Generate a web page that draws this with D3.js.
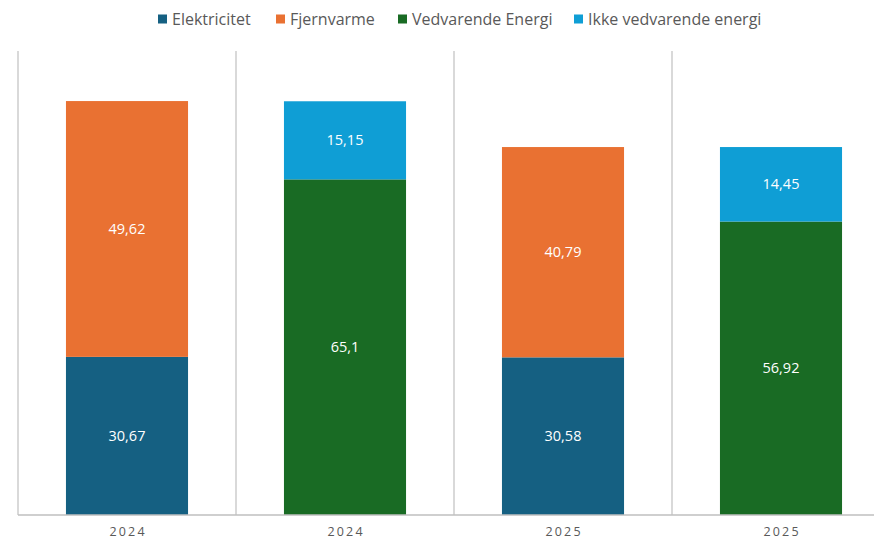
<!DOCTYPE html>
<html>
<head>
<meta charset="utf-8">
<script src="https://cdn.jsdelivr.net/npm/d3@7/dist/d3.min.js"></script>
<style>
  body { margin: 0; background: #fff; }
  svg { display: block; font-family: "Open Sans", "Liberation Sans", sans-serif; }
</style>
</head>
<body>
<div id="chart"></div>
<script>
const categories = ["2024", "2024 ", "2025", "2025 "];
const categoryLabels = ["2024", "2024", "2025", "2025"];
const seriesNames = ["Elektricitet", "Fjernvarme", "Vedvarende Energi", "Ikke vedvarende energi"];
const elektricitet = [30.67, 0, 30.58, 0];
const fjernvarme = [49.62, 0, 40.79, 0];
const vedvarende = [0, 65.1, 0, 56.92];
const ikkeVedvarende = [0, 15.15, 0, 14.45];
const colors = ["#156082", "#e97132", "#196b24", "#0f9ed5"];

const W = 874, H = 540;
const table = categories.map((c, i) => ({
  cat: c,
  [seriesNames[0]]: elektricitet[i],
  [seriesNames[1]]: fjernvarme[i],
  [seriesNames[2]]: vedvarende[i],
  [seriesNames[3]]: ikkeVedvarende[i]
}));

const stacked = d3.stack().keys(seriesNames)(table);

const x = d3.scaleBand()
  .domain(categories)
  .range([18, 890])
  .paddingInner(0.44)
  .paddingOuter(0.22);

const y = d3.scaleLinear()
  .domain([0, 90])
  .range([515, 51]);

const color = d3.scaleOrdinal().domain(seriesNames).range(colors);
const fmt = v => String(v).replace(".", ",");

const svg = d3.select("#chart").append("svg")
  .attr("width", W)
  .attr("height", H);

// category separators
const step = x.step();
svg.append("g")
  .selectAll("line")
  .data(d3.range(categories.length + 1))
  .join("line")
  .attr("x1", i => 18 + i * step)
  .attr("x2", i => 18 + i * step)
  .attr("y1", y(90))
  .attr("y2", y(0))
  .attr("stroke", "#d9d9d9")
  .attr("stroke-width", 2);

// bars
const layers = svg.append("g")
  .selectAll("g")
  .data(stacked)
  .join("g")
  .attr("fill", d => color(d.key));

layers.selectAll("rect")
  .data(d => d.filter(p => p[1] - p[0] > 0))
  .join("rect")
  .attr("x", d => x(d.data.cat))
  .attr("width", x.bandwidth())
  .attr("y", d => y(d[1]))
  .attr("height", d => y(d[0]) - y(d[1]));

// data labels
layers.selectAll("text")
  .data(d => d.filter(p => p[1] - p[0] > 0).map(p => ({ p, key: d.key })))
  .join("text")
  .attr("x", d => x(d.p.data.cat) + x.bandwidth() / 2)
  .attr("y", d => (y(d.p[0]) + y(d.p[1])) / 2)
  .attr("dy", "0.35em")
  .attr("text-anchor", "middle")
  .attr("fill", "#fff")
  .style("font-size", "14.5px")
  .text(d => fmt(d.p.data[d.key]));

// x axis
const xAxis = svg.append("g")
  .attr("transform", `translate(0,${y(0)})`)
  .call(d3.axisBottom(x).tickSize(0).tickPadding(12)
    .tickFormat((d, i) => categoryLabels[i]));
xAxis.select(".domain")
  .attr("d", `M18,0H890`)
  .attr("stroke", "#bfbfbf")
  .attr("stroke-width", 1.5);
xAxis.selectAll("text")
  .attr("dx", 1.1)
  .style("font-size", "12.5px")
  .style("letter-spacing", "2.2px")
  .style("font-family", "\"Open Sans\", \"Liberation Sans\", sans-serif")
  .attr("fill", "#595959");

// legend
const legendX = [158, 276, 398, 574];
const legend = svg.append("g")
  .selectAll("g")
  .data(seriesNames)
  .join("g")
  .attr("transform", (d, i) => `translate(${legendX[i]},19)`);
legend.append("rect")
  .attr("x", 0)
  .attr("y", -4.5)
  .attr("width", 9)
  .attr("height", 9)
  .attr("fill", d => color(d));
legend.append("text")
  .attr("x", 14)
  .attr("dy", "0.35em")
  .attr("fill", "#595959")
  .style("font-size", "16px")
  .text(d => d);
</script>
</body>
</html>
